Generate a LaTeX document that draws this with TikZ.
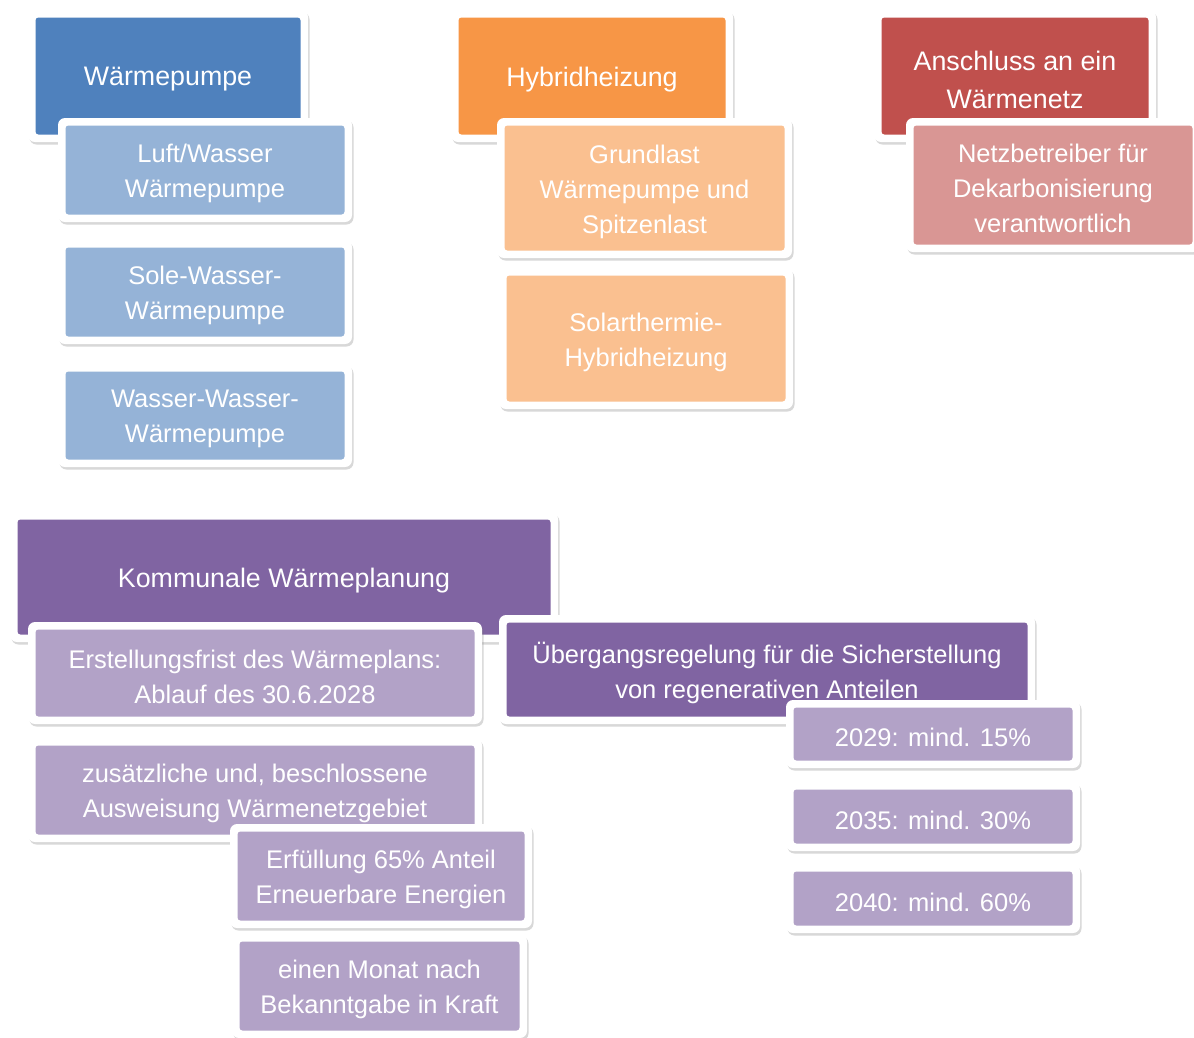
\documentclass[tikz,border=0pt]{standalone}
\usepackage{fontspec}
\setmainfont{Liberation Sans}
\usetikzlibrary{shadows}
\definecolor{blueA}{HTML}{4F81BD}
\definecolor{blueB}{HTML}{95B3D7}
\definecolor{orangeA}{HTML}{F79646}
\definecolor{orangeB}{HTML}{FAC090}
\definecolor{redA}{HTML}{C0504D}
\definecolor{redB}{HTML}{D99694}
\definecolor{purpleA}{HTML}{8064A2}
\definecolor{purpleB}{HTML}{B2A2C7}
\newcommand\ttl{\fontsize{26.8}{38}\selectfont}
\newcommand\chd{\fontsize{25.5}{35}\selectfont}
\tikzset{
  outerbox/.style={fill=white, rounded corners=7pt,
    drop shadow={shadow xshift=1.5pt, shadow yshift=-2.5pt, opacity=0.28, fill=black!55}},
  innerbox/.style={rounded corners=3pt},
  txt/.style={text=white, align=center, inner sep=0pt, yshift=-3.5pt}
}
% #1 name, #2 x1, #3 y1, #4 x2, #5 y2, #6 colour, #7 font, #8 text
\newcommand\bx[8]{%
  \path[outerbox] (#2,#3) rectangle (#4,#5);
  \fill[innerbox,#6] ({#2+7.5},{#3+7.5}) rectangle ({#4-7.5},{#5-7.5});
  \node[txt,font=#7] (#1) at ({(#2+#4)/2},{(#3+#5)/2}) {#8};
}
\begin{document}
\begin{tikzpicture}[x=1pt,y=-1pt]
\useasboundingbox (0,0) rectangle (1194,1037);
\fill[white] (0,0) rectangle (1194,1037);

\bx{wp}{28}{10}{308}{142}{blueA}{\ttl}{Wärmepumpe}
\bx{luft}{58}{118}{352}{222}{blueB}{\chd}{Luft/Wasser\\Wärmepumpe}
\bx{sole}{58}{240}{352}{344}{blueB}{\chd}{Sole-Wasser-\\Wärmepumpe}
\bx{wasser}{58}{364}{352}{467}{blueB}{\chd}{Wasser-Wasser-\\Wärmepumpe}

\bx{hyb}{451}{10}{733}{142}{orangeA}{\ttl}{Hybridheizung}
\bx{grund}{497}{118}{792}{258}{orangeB}{\chd}{Grundlast\\Wärmepumpe und\\Spitzenlast}
\bx{solar}{499}{268}{793}{409}{orangeB}{\chd}{Solarthermie-\\Hybridheizung}

\bx{netz}{874}{10}{1156}{142}{redA}{\ttl}{Anschluss an ein\\Wärmenetz}
\bx{betr}{906}{118}{1200}{252}{redB}{\chd}{Netzbetreiber für\\Dekarbonisierung\\verantwortlich}

\bx{kwp}{10}{512}{558}{642}{purpleA}{\ttl}{Kommunale Wärmeplanung}
\bx{frist}{28}{622}{482}{724}{purpleB}{\chd}{Erstellungsfrist des Wärmeplans:\\Ablauf des 30.6.2028}
\bx{zus}{28}{738}{482}{842}{purpleB}{\chd}{zusätzliche und, beschlossene\\Ausweisung Wärmenetzgebiet}
\bx{erf}{230}{824}{532}{928}{purpleB}{\chd}{Erfüllung 65\% Anteil\\Erneuerbare Energien}
\bx{monat}{232}{934}{527}{1038}{purpleB}{\chd}{einen Monat nach\\Bekanntgabe in Kraft}
\bx{ueb}{499}{615}{1035}{724}{purpleA}{\chd}{Übergangsregelung für die Sicherstellung\\von regenerativen Anteilen}
\bx{y29}{786}{700}{1080}{768}{purpleB}{\chd}{2029: mind. 15\%}
\bx{y35}{786}{782}{1080}{851}{purpleB}{\chd}{2035: mind. 30\%}
\bx{y40}{786}{864}{1080}{933}{purpleB}{\chd}{2040: mind. 60\%}
\end{tikzpicture}
\end{document}
